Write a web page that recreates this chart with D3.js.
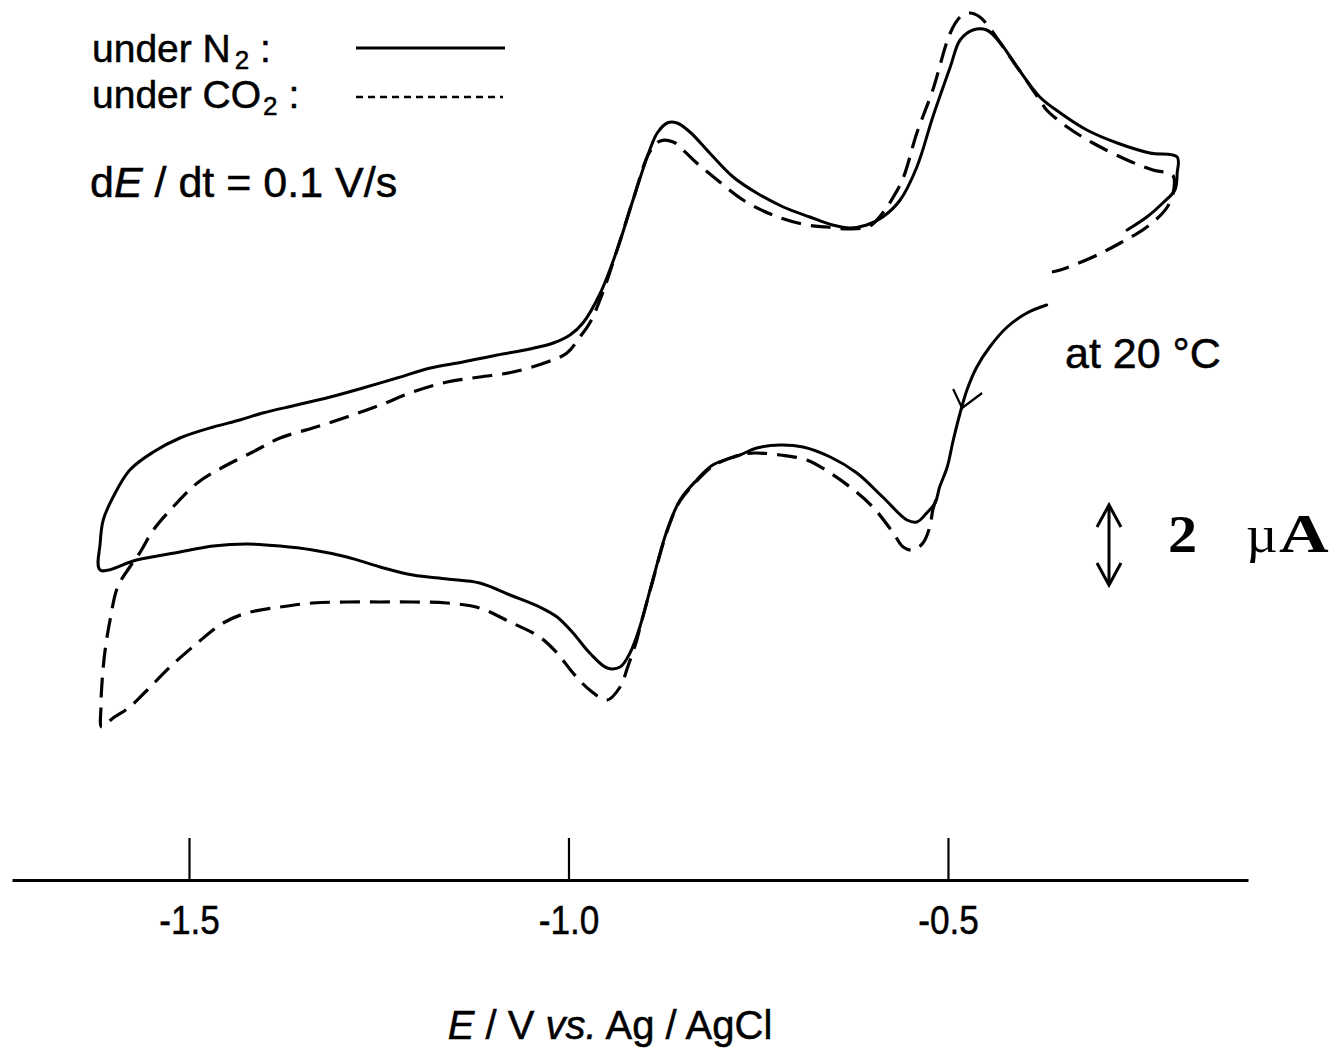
<!DOCTYPE html>
<html>
<head>
<meta charset="utf-8">
<script src="https://cdn.jsdelivr.net/npm/d3@7"></script>
<style>
  html, body { margin: 0; padding: 0; background: #fff; }
  svg { display: block; }
  .sans { font-family: "Liberation Sans", Arial, Helvetica, sans-serif; fill: #000; stroke: #000; stroke-width: 0.5px; }
  .serif { font-family: "Liberation Serif", "Times New Roman", serif; fill: #000; }
</style>
</head>
<body>
<svg id="chart" width="1339" height="1048"></svg>
<script>
// Cyclic voltammograms, E in V vs Ag/AgCl, current in µA (anodic positive).
// Each scan starts near -0.37 V, runs negative to -1.62 V, back to -0.20 V.

// Under N2 – forward (negative-going) sweep
const n2ForwardE = [-0.370,-0.396,-0.422,-0.445,-0.462,-0.475,-0.484,-0.493,-0.501,-0.511,
  -0.517,-0.528,-0.541,-0.554,-0.586,-0.620,-0.655,-0.691,-0.721,-0.752,
  -0.774,-0.810,-0.831,-0.853,-0.870,-0.889,-0.906,-0.919,-0.932,-0.949,
  -0.972,-0.994,-1.015,-1.038,-1.077,-1.117,-1.160,-1.205,-1.248,-1.292,
  -1.337,-1.380,-1.424,-1.468,-1.512,-1.569,-1.617];
const n2ForwardI = [-0.125,-0.325,-0.675,-1.175,-1.675,-2.25,-2.825,-3.5,-4.175,-4.675,
  -5.075,-5.325,-5.55,-5.5,-4.925,-4.325,-3.925,-3.675,-3.625,-3.7,
  -3.875,-4.125,-4.5,-5.0,-5.75,-7.0,-8.175,-8.825,-9.175,-9.2,
  -8.825,-8.325,-7.925,-7.675,-7.375,-7.075,-6.975,-6.875,-6.675,-6.425,
  -6.25,-6.15,-6.1,-6.15,-6.3,-6.5,-6.75];

// Under N2 – reverse (positive-going) sweep
const n2ReverseE = [-1.617,-1.613,-1.600,-1.578,-1.547,-1.512,-1.468,-1.433,
  -1.403,-1.358,-1.314,-1.271,-1.226,-1.182,-1.139,-1.094,-1.051,-1.020,-0.998,-0.981,
  -0.958,-0.936,-0.915,-0.893,-0.883,-0.870,-0.857,-0.840,-0.814,-0.783,
  -0.752,-0.717,-0.682,-0.652,-0.629,-0.607,-0.586,-0.563,-0.541,-0.520,
  -0.497,-0.484,-0.467,-0.449,-0.431,-0.409,-0.379,-0.352,-0.317,-0.277,
  -0.234,-0.198,-0.198,-0.201,-0.217,-0.238,-0.264];
const n2ReverseI = [-6.075,-5.5,-4.925,-4.25,-3.8,-3.45,-3.175,-3.0,
  -2.825,-2.625,-2.425,-2.2,-1.95,-1.7,-1.55,-1.375,-1.225,-1.075,-0.875,-0.575,
  0.175,1.25,2.5,3.75,4.175,4.425,4.425,4.2,3.675,3.075,
  2.675,2.325,2.075,1.875,1.8,1.875,2.075,2.5,3.325,4.575,
  5.825,6.5,6.75,6.75,6.425,5.825,5.075,4.675,4.25,3.925,
  3.675,3.575,3.175,2.75,2.425,2.075,1.75];

// Under CO2 – forward sweep
const co2ForwardE = [-0.516,-0.520,-0.524,-0.533,-0.546,-0.559,-0.572,-0.599,-0.629,-0.655,
  -0.686,-0.721,-0.752,-0.770,-0.800,-0.810,-0.831,-0.853,-0.870,-0.889,
  -0.906,-0.910,-0.922,-0.932,-0.949,-0.972,-0.994,-1.015,-1.038,-1.077,
  -1.117,-1.160,-1.205,-1.248,-1.292,-1.337,-1.380,-1.424,-1.455,-1.489,
  -1.525,-1.555,-1.578,-1.600,-1.615];
const co2ForwardI = [-5.0,-5.25,-5.675,-6.075,-6.25,-6.175,-5.825,-5.175,-4.675,-4.325,
  -4.0,-3.875,-3.825,-3.85,-4.05,-4.15,-4.525,-5.025,-5.775,-7.025,
  -8.2,-8.5,-9.175,-9.675,-10.0,-9.75,-9.325,-8.825,-8.425,-8.05,
  -7.7,-7.575,-7.55,-7.55,-7.55,-7.575,-7.675,-7.825,-8.075,-8.575,
  -9.175,-9.75,-10.175,-10.45,-10.675];

// Under CO2 – reverse sweep
const co2ReverseE = [-1.616,-1.615,-1.611,-1.604,-1.594,-1.578,-1.565,-1.547,-1.521,-1.489,
  -1.455,-1.416,-1.380,-1.337,-1.292,-1.248,-1.205,-1.160,-1.117,-1.073,
  -1.028,-1.002,-0.985,-0.972,-0.955,-0.936,-0.915,-0.893,-0.879,-0.862,
  -0.849,-0.831,-0.804,-0.770,-0.731,-0.686,-0.659,-0.629,-0.603,-0.586,
  -0.572,-0.559,-0.541,-0.520,-0.497,-0.484,-0.471,-0.458,-0.445,-0.431,
  -0.409,-0.379,-0.370,-0.343,-0.309,-0.264,-0.230,-0.204,-0.202,-0.211,
  -0.238,-0.273,-0.309,-0.352,-0.363];
const co2ReverseI = [-10.175,-9.675,-8.825,-8.0,-7.175,-6.675,-6.325,-5.75,-5.175,-4.575,
  -4.175,-3.8,-3.45,-3.2,-2.925,-2.625,-2.3,-2.05,-1.925,-1.8,
  -1.55,-1.325,-0.925,-0.575,0.175,1.25,2.5,3.7,3.975,3.95,
  3.75,3.425,3.0,2.5,2.125,1.875,1.825,1.775,1.85,2.175,
  2.575,3.05,4.175,5.25,6.675,7.075,7.175,7.075,6.8,6.425,
  5.825,5.0,4.75,4.325,3.925,3.5,3.25,3.125,2.825,2.325,
  1.825,1.425,1.075,0.75,0.7];

const tickValues = [-1.5, -1.0, -0.5];
const tickLabels = ["-1.5", "-1.0", "-0.5"];
const scaleBarTop = -5.125;   // µA
const scaleBarSize = 2;       // µA

const svg = d3.select("#chart");

const xScale = d3.scaleLinear().domain([-1.7332, -0.1047]).range([12, 1248]);
const yScale = d3.scaleLinear().domain([-11, 8]).range([740, -20]);

const zip = (E, I) => E.map((e, i) => [e, I[i]]);
const n2Trace = zip(n2ForwardE, n2ForwardI).concat(zip(n2ReverseE, n2ReverseI));
const co2Trace = zip(co2ForwardE, co2ForwardI).concat(zip(co2ReverseE, co2ReverseI));

const line = d3.line()
  .x(d => xScale(d[0]))
  .y(d => yScale(d[1]))
  .curve(d3.curveCatmullRom.alpha(0.5));

// CO2 trace (dashed)
svg.append("path")
  .attr("d", line(co2Trace))
  .attr("fill", "none")
  .attr("stroke", "#000")
  .attr("stroke-width", 3.2)
  .attr("stroke-dasharray", "20,10")
  .attr("stroke-linejoin", "round");

// N2 trace (solid)
svg.append("path")
  .attr("d", line(n2Trace))
  .attr("fill", "none")
  .attr("stroke", "#000")
  .attr("stroke-width", 3)
  .attr("stroke-linejoin", "round")
  .attr("stroke-linecap", "round");

// scan-direction arrowhead on the initial sweep
{
  const tx = xScale(n2ForwardE[6]) + 2, ty = yScale(n2ForwardI[6]) - 5;
  svg.append("path")
    .attr("d", `M${tx - 9},${ty - 19} L${tx},${ty} L${tx + 20},${ty - 15}`)
    .attr("fill", "none").attr("stroke", "#000").attr("stroke-width", 2.2);
}

// x axis: ticks point upward, labels beneath
const xAxis = d3.axisBottom(xScale)
  .tickValues(tickValues)
  .tickFormat((d, i) => tickLabels[i])
  .tickSizeInner(-42)
  .tickSizeOuter(0);

const gx = svg.append("g").attr("transform", "translate(0,880)").call(xAxis);
gx.select(".domain").attr("stroke", "#000").attr("stroke-width", 3);
gx.selectAll(".tick line").attr("stroke", "#000").attr("stroke-width", 2.2);
gx.selectAll(".tick text")
  .attr("class", "sans")
  .attr("y", 54)
  .attr("dy", null)
  .attr("transform", "scale(0.88,1)")
  .attr("font-size", 40)
  .attr("fill", "#000");

// axis title
const title = svg.append("text").attr("class", "sans")
  .attr("x", 610).attr("y", 1039)
  .attr("text-anchor", "middle").attr("font-size", 40);
title.append("tspan").attr("font-style", "italic").text("E");
title.append("tspan").text(" / V ");
title.append("tspan").attr("font-style", "italic").text("vs.");
title.append("tspan").text(" Ag / AgCl");

// legend
const leg1 = svg.append("text").attr("class", "sans").attr("x", 92).attr("y", 62).attr("font-size", 39);
leg1.append("tspan").text("under N");
leg1.append("tspan").attr("dx", 4).attr("dy", 7).attr("font-size", 26).text("2");
leg1.append("tspan").attr("dy", -7).text("  :");

const leg2 = svg.append("text").attr("class", "sans").attr("x", 92).attr("y", 108).attr("font-size", 39);
leg2.append("tspan").text("under CO");
leg2.append("tspan").attr("dx", 2).attr("dy", 7).attr("font-size", 26).text("2");
leg2.append("tspan").attr("dy", -7).text(" :");

svg.append("line").attr("x1", 356).attr("x2", 505).attr("y1", 48).attr("y2", 48)
  .attr("stroke", "#000").attr("stroke-width", 3);
svg.append("line").attr("x1", 356).attr("x2", 503).attr("y1", 97).attr("y2", 97)
  .attr("stroke", "#000").attr("stroke-width", 2.5).attr("stroke-dasharray", "7,5");

// sweep rate
const rate = svg.append("text").attr("class", "sans").attr("x", 90).attr("y", 197).attr("font-size", 43);
rate.append("tspan").text("d");
rate.append("tspan").attr("font-style", "italic").text("E");
rate.append("tspan").text(" / dt = 0.1 V/s");

// temperature
svg.append("text").attr("class", "sans").attr("x", 1065).attr("y", 368)
  .attr("font-size", 43).text("at 20 °C");

// current scale bar
{
  const bx = 1109;
  const y1 = yScale(scaleBarTop), y2 = yScale(scaleBarTop - scaleBarSize);
  const g = svg.append("g").attr("fill", "none").attr("stroke", "#000").attr("stroke-width", 3);
  g.append("line").attr("x1", bx).attr("x2", bx).attr("y1", y1).attr("y2", y2);
  g.append("path").attr("d", `M${bx - 12},${y1 + 22} L${bx},${y1} L${bx + 12},${y1 + 22}`);
  g.append("path").attr("d", `M${bx - 12},${y2 - 22} L${bx},${y2} L${bx + 12},${y2 - 22}`);
  svg.append("text").attr("class", "serif").attr("font-weight", "bold").attr("font-size", 52)
    .attr("transform", "translate(1168,552) scale(1.12,1)").text("2");
  svg.append("text").attr("class", "serif").attr("font-size", 52)
    .attr("transform", "translate(1246,552) scale(1.05,1)").text("µ");
  svg.append("text").attr("class", "serif").attr("font-weight", "bold").attr("font-size", 55)
    .attr("transform", "translate(1279,552) scale(1.25,1)").text("A");
}
</script>
</body>
</html>
